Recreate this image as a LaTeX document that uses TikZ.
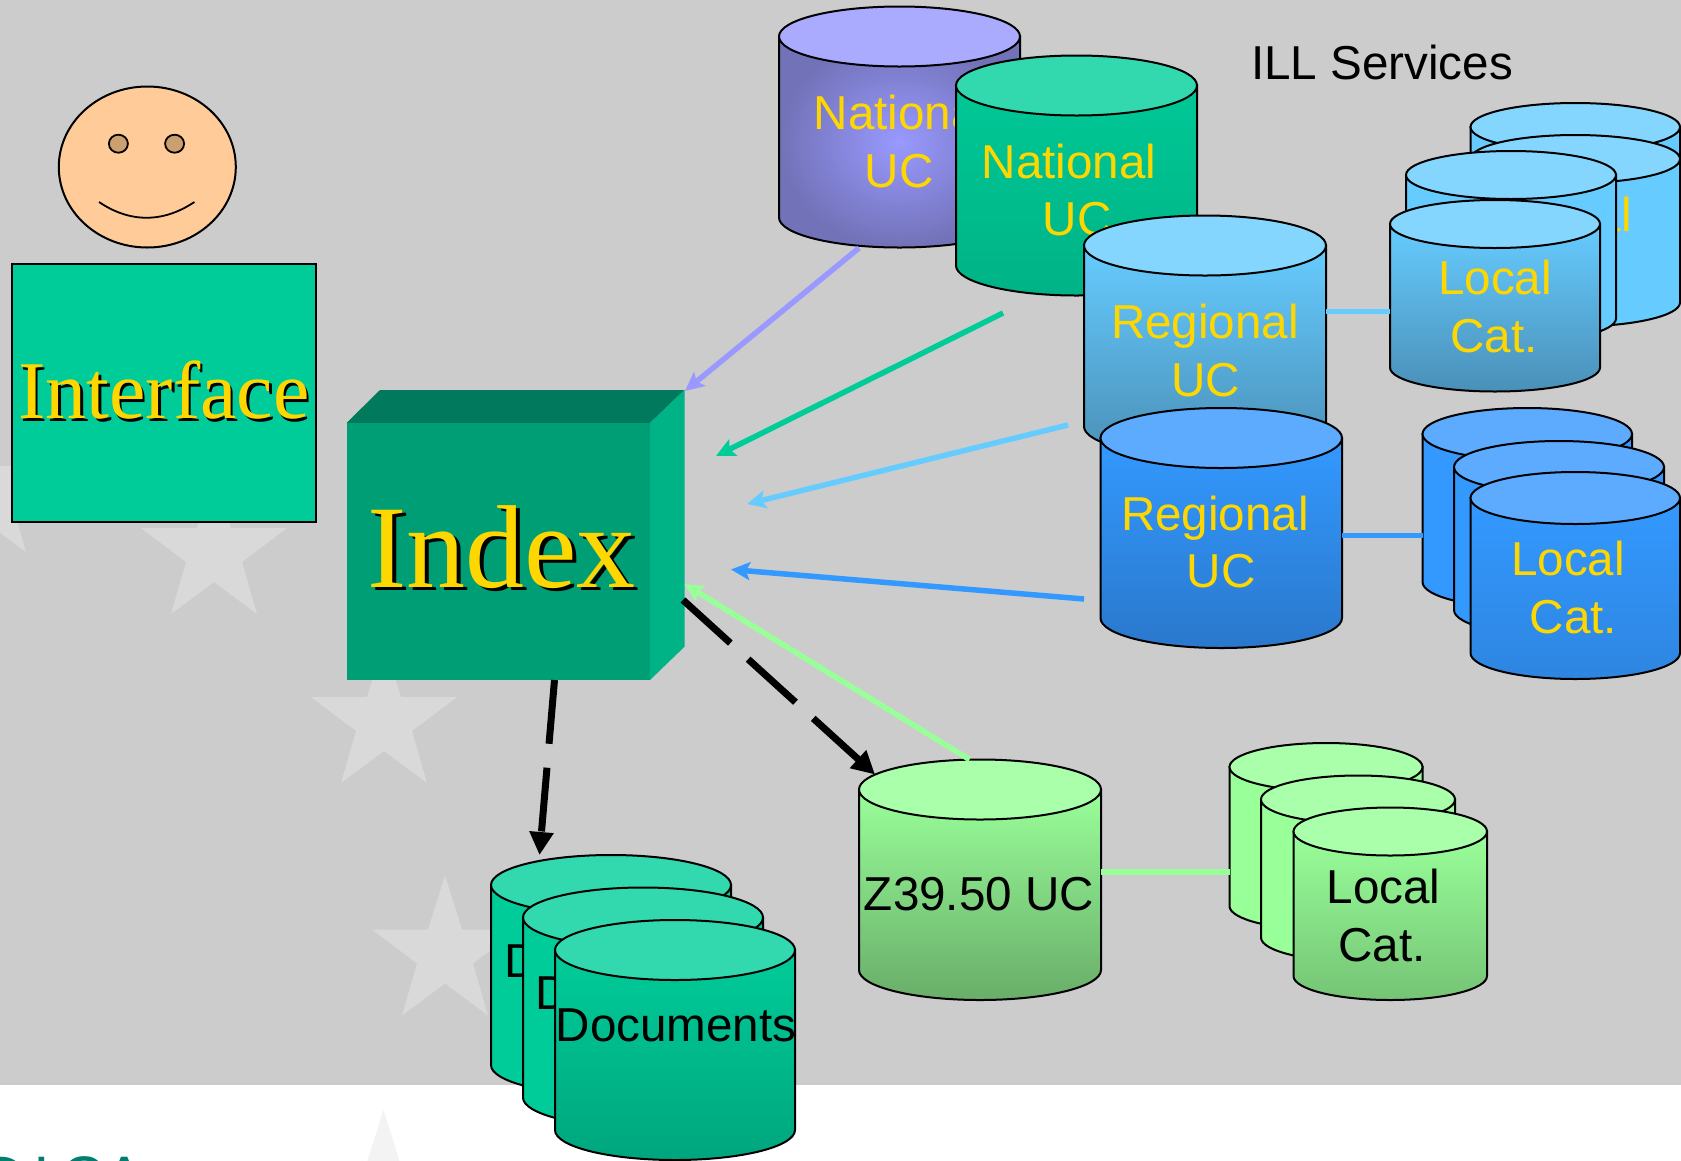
\documentclass[tikz,border=0pt]{standalone}
\usepackage{fontspec}
\setmainfont{Liberation Sans}
\newfontfamily\tnr{Liberation Serif}
\usetikzlibrary{arrows.meta}
\definecolor{bggray}{HTML}{CCCCCC}
\definecolor{starG}{HTML}{D9D9D9}
\definecolor{starW}{HTML}{F3F3F3}
\definecolor{ylw}{HTML}{FFD700}
\definecolor{tealc}{HTML}{00CC99}
\definecolor{tealtop}{HTML}{33D9AE}
\definecolor{tealdk}{HTML}{00A67D}
\definecolor{idxfront}{HTML}{009E75}
\definecolor{idxtop}{HTML}{00795C}
\definecolor{idxside}{HTML}{00B386}
\definecolor{lblue}{HTML}{66CCFF}
\definecolor{lbluetop}{HTML}{85D6FF}
\definecolor{lbluedk}{HTML}{4A90B8}
\definecolor{mblue}{HTML}{3399FF}
\definecolor{mbluetop}{HTML}{5CABFF}
\definecolor{mbluedk}{HTML}{2A78CC}
\definecolor{lgreen}{HTML}{99FF99}
\definecolor{lgreentop}{HTML}{AAFFAA}
\definecolor{lgreendk}{HTML}{69AD69}
\definecolor{lgreendkb}{HTML}{75C475}
\definecolor{purp}{HTML}{9999FF}
\definecolor{purptop}{HTML}{AAAAFF}
\definecolor{purpdk}{HTML}{7272B8}
\definecolor{skin}{HTML}{FFCC99}
\definecolor{eye}{HTML}{CC9F70}
\definecolor{logoc}{HTML}{007F6E}
\tikzset{
  cylbody/.style={draw=black,line width=2pt},
  cyltop/.style={draw=black,line width=2pt},
  lbl/.style={inner sep=0pt,anchor=base,font=\fontsize{47.6}{47.6}\selectfont},
  ylwlbl/.style={lbl,text=ylw},
  serifbig/.style={inner sep=0pt,anchor=base,font=\tnr\fontsize{#1}{#1}\selectfont},
  link/.style={line width=5.5pt,draw=#1},
  colarrow/.style={line width=5.5pt,draw=#1,-{Stealth[length=19pt,width=18pt,inset=4pt,fill=#1]}},
  dasharrow/.style={line width=7pt,draw=black,dash pattern=on 64pt off 24pt,-{Triangle[length=23pt,width=23pt,fill=black]}},
}
\newcommand{\cyl}[7]{%
  \pgfmathsetmacro\cylrx{#3/2}%
  \pgfmathsetmacro\cylcx{#1+#3/2}%
  \pgfmathsetmacro\cylty{#2+#5}%
  \pgfmathsetmacro\cylby{#2+#4-#5}%
  \pgfmathsetmacro\cylrr{#1+#3}%
  \path[cylbody,#7] (#1,\cylty) -- (#1,\cylby)
     arc[start angle=180,end angle=360,x radius=\cylrx pt,y radius=#5 pt]
     -- (\cylrr,\cylty) -- cycle;
  \path[cyltop,fill=#6] (\cylcx,\cylty) ellipse [x radius=\cylrx pt,y radius=#5 pt];
}
\newcommand{\starshape}[3]{%
  \fill[#3] (#1,#2) -- ++(17,54) -- ++(56,0) -- ++(-45,34) -- ++(15,52)
     -- ++(-43,-32) -- ++(-43,32) -- ++(15,-52) -- ++(-45,-34) -- ++(56,0) -- cycle;
}
\begin{document}
\begin{tikzpicture}[x=1pt,y=-1pt]
\useasboundingbox (0,0) rectangle (1681,1160);
\clip (0,0) rectangle (1681,1160);
% background
\fill[white] (0,0) rectangle (1681,1160);
\fill[bggray] (0,0) rectangle (1681,1085);
\starshape{-17}{412}{starG}
\starshape{214}{474}{starG}
\starshape{384}{643}{starG}
\starshape{445}{875.5}{starG}
\starshape{383.5}{1110}{starW}
\node[inner sep=0pt,anchor=base west,text=logoc,font=\fontsize{60}{60}\selectfont] (logo) at (-18,1198) {D\kern8pt I\kern11pt CA};
% person
\draw[line width=2pt,fill=skin] (147.3,167) ellipse [x radius=88.5pt,y radius=80.5pt];
\draw[line width=1.8pt,fill=eye] (118.4,143.7) ellipse [x radius=9.5pt,y radius=9pt];
\draw[line width=1.8pt,fill=eye] (174.6,143.7) ellipse [x radius=9.5pt,y radius=9pt];
\draw[line width=1.8pt] (99,202) .. controls (130,223) and (163,223) .. (194.4,202);
\node[draw=black,line width=2.2pt,fill=tealc,minimum width=304.5pt,minimum height=257.5pt,inner sep=0pt,anchor=north west] (iface) at (10.7,263) {};
\node[serifbig=82,text=black] (ifaceS) at (166.5,421) {Interface};
\node[serifbig=82,text=ylw] (ifaceT) at (164,418) {Interface};
% index box
\fill[idxtop] (346.5,423) -- (380,390) -- (684.5,390) -- (650,423) -- cycle;
\fill[idxside] (650,423) -- (684.5,390) -- (684.5,646.7) -- (650,680) -- cycle;
\node[fill=idxfront,minimum width=303.5pt,minimum height=257pt,inner sep=0pt,anchor=north west] (index) at (346.5,423) {};
\node[serifbig=118,text=black] (indexS) at (505.5,590.5) {Index};
\node[serifbig=118,text=ylw] (indexT) at (501.5,587) {Index};
% national
\cyl{779}{6.5}{241}{241}{30}{purptop}{inner color=purp,outer color=purpdk}
\node[ylwlbl] (n1a) at (901,129) {National};
\node[ylwlbl] (n1b) at (899,187) {UC};
\cyl{956}{55.5}{241}{240}{30}{tealtop}{top color=tealc!98!black,bottom color=idxside}
\node[ylwlbl] (n2a) at (1069,178) {National};
\node[ylwlbl] (n2b) at (1077,235) {UC};
% regional light
\cyl{1084}{215.5}{242}{241}{30}{lbluetop}{top color=lblue,bottom color=lbluedk}
\node[ylwlbl] (r1a) at (1205,338) {Regional};
\node[ylwlbl] (r1b) at (1205.5,396) {UC};
% regional dark
\cyl{1100.5}{408}{241.5}{240}{30}{mbluetop}{top color=mblue,bottom color=mbluedk}
\node[ylwlbl] (r2a) at (1215,530) {Regional};
\node[ylwlbl] (r2b) at (1221,587.5) {UC};
% light-blue locals
\cyl{1470.5}{103}{209.5}{191.5}{24}{lbluetop}{fill=lblue}
\cyl{1470.5}{135}{209.5}{191.5}{24}{lbluetop}{fill=lblue}
\node[ylwlbl] (lb2) at (1575,231) {Local};
\cyl{1406}{151}{210}{191.5}{24}{lbluetop}{fill=lblue}
\cyl{1390}{200}{210}{191.5}{24}{lbluetop}{top color=lblue,bottom color=lbluedk}
\node[ylwlbl] (lb4a) at (1495,294.5) {Local};
\node[ylwlbl] (lb4b) at (1494,352.5) {Cat.};
% mid-blue locals
\cyl{1422.5}{408}{209.5}{200}{26}{mbluetop}{fill=mblue}
\cyl{1454}{441}{210}{195}{26}{mbluetop}{fill=mblue}
\cyl{1470.5}{472}{209.5}{207}{26}{mbluetop}{top color=mblue,bottom color=mbluedk!60!mblue}
\node[ylwlbl] (mb3a) at (1568,575) {Local};
\node[ylwlbl] (mb3b) at (1573.5,633.5) {Cat.};
% z39.50
\cyl{859}{759.5}{242}{240.5}{30}{lgreentop}{top color=lgreen,bottom color=lgreendk}
\node[lbl] (z) at (979,910) {Z39.50 UC};
% green locals
\cyl{1229.5}{743}{193}{187}{24}{lgreentop}{fill=lgreen}
\cyl{1261}{775.5}{194}{186}{24}{lgreentop}{fill=lgreen}
\cyl{1293.5}{807.5}{193.5}{192.5}{24}{lgreentop}{top color=lgreen,bottom color=lgreendkb}
\node[lbl] (ga) at (1383.5,903) {Local};
\node[lbl] (gb) at (1382,961.5) {Cat.};
% documents
\cyl{491}{855}{240}{240}{30}{tealtop}{fill=tealc}
\node[lbl] (d1) at (625,977) {Documents};
\cyl{523}{887.5}{240}{240}{30}{tealtop}{fill=tealc}
\node[lbl] (d2) at (656,1009) {Documents};
\cyl{555}{920}{240}{240}{30}{tealtop}{top color=tealc,bottom color=tealdk}
\node[lbl] (d3) at (676,1041) {Documents};
% title
\node[lbl] (ill) at (1382,79.5) {ILL Services};
% connector ends
\coordinate (pA) at (859,248);   \coordinate (pB) at (685,391);
\coordinate (gA) at (1003,313);  \coordinate (gB) at (716,456);
\coordinate (lA) at (1068,425);  \coordinate (lB) at (747,504);
\coordinate (mA) at (1084,599);  \coordinate (mB) at (731,569.5);
\coordinate (zA) at (969.5,759.5); \coordinate (zB) at (684.5,584);
\coordinate (kA) at (683,600);   \coordinate (kB) at (875,774.5);
\coordinate (dA) at (554.5,680); \coordinate (dB) at (539.5,855);
\coordinate (l1) at (1326,311.5); \coordinate (l2) at (1390,311.5);
\coordinate (m1) at (1342,535.5); \coordinate (m2) at (1422.5,535.5);
\coordinate (z1) at (1101,872);   \coordinate (z2) at (1229.5,872);
\draw[link=lblue] (l1) -- (l2);
\draw[link=mblue] (m1) -- (m2);
\draw[link=lgreen] (z1) -- (z2);
\draw[colarrow=purp] (pA) -- (pB);
\draw[colarrow=tealc] (gA) -- (gB);
\draw[colarrow=lblue] (lA) -- (lB);
\draw[colarrow=mblue] (mA) -- (mB);
\draw[colarrow=lgreen] (zA) -- (zB);
\draw[dasharrow] (kA) -- (kB);
\draw[dasharrow] (dA) -- (dB);
\end{tikzpicture}
\end{document}
